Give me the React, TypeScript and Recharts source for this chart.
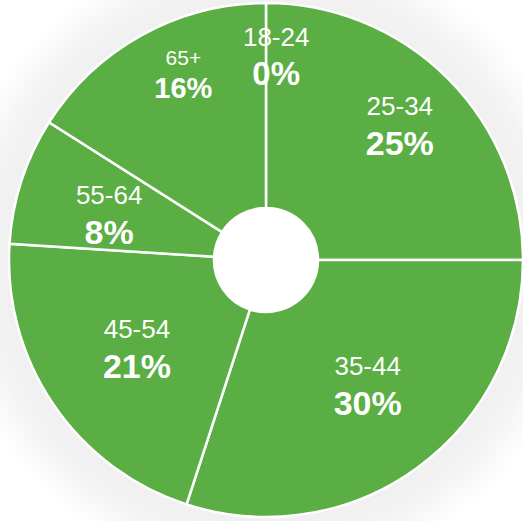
import React from "react";
import { PieChart, Pie, Cell } from "recharts";

const ageGroups = ["18-24", "25-34", "35-44", "45-54", "55-64", "65+"];
const shares = [0, 25, 30, 21, 8, 16];

const data = ageGroups.map((name, i) => ({ name, value: shares[i] }));
const halo = [{ name: "halo", value: 1 }];

const GREEN = "#5aae44";
const CX = 266;
const CY = 260;
const RAD = Math.PI / 180;

// label placement tweaks per slice: [radius, angle nudge in deg, name size, pct size]
const LABEL_STYLE = [
  [195, -3, 26, 33],
  [183, -2, 26, 34],
  [169, 1, 26, 34],
  [162, 3, 26, 34],
  [161, 5, 26, 34],
  [197, -4, 21, 29],
];

const renderLabel = (props: any) => {
  const { midAngle, index } = props;
  const [r, nudge, nameSize, pctSize] = LABEL_STYLE[index];
  const a = (midAngle + nudge) * RAD;
  const x = CX + r * Math.cos(-a);
  const y = CY + r * Math.sin(-a);
  const half = (nameSize + pctSize) * 0.33;
  return (
    <g key={`lbl-${index}`}>
      <text
        x={x}
        y={y - half}
        textAnchor="middle"
        fill="#fff"
        fontSize={nameSize}
        fontFamily="'Liberation Sans', Arial, sans-serif"
      >
        {data[index].name}
      </text>
      <text
        x={x}
        y={y + half}
        textAnchor="middle"
        fill="#fff"
        fontSize={pctSize}
        fontWeight="bold"
        fontFamily="'Liberation Sans', Arial, sans-serif"
      >
        {`${data[index].value}%`}
      </text>
    </g>
  );
};

const App = () => {
  return (
    <div style={{ position: "absolute", left: 0, top: 0, background: "#fff" }}>
      <PieChart width={523} height={521} margin={{ top: 0, right: 0, bottom: 0, left: 0 }}>
        <defs>
          <radialGradient id="halo" cx="50%" cy="50%" r="50%">
            <stop offset="0%" stopColor="#f0f0f0" />
            <stop offset="80%" stopColor="#f0f0f0" />
            <stop offset="88%" stopColor="#f3f3f3" />
            <stop offset="100%" stopColor="#ffffff" />
          </radialGradient>
        </defs>
        <Pie
          data={halo}
          dataKey="value"
          cx={CX}
          cy={CY}
          innerRadius={250}
          outerRadius={320}
          stroke="none"
          fill="url(#halo)"
          isAnimationActive={false}
        />
        <Pie
          data={data}
          dataKey="value"
          nameKey="name"
          cx={CX}
          cy={CY}
          innerRadius={52}
          outerRadius={257}
          startAngle={90}
          endAngle={-270}
          stroke="#ffffff"
          strokeWidth={2.5}
          label={renderLabel}
          labelLine={false}
          isAnimationActive={false}
        >
          {data.map((entry, index) => (
            <Cell key={`cell-${index}`} fill={GREEN} />
          ))}
        </Pie>
      </PieChart>
    </div>
  );
};

export default App;
